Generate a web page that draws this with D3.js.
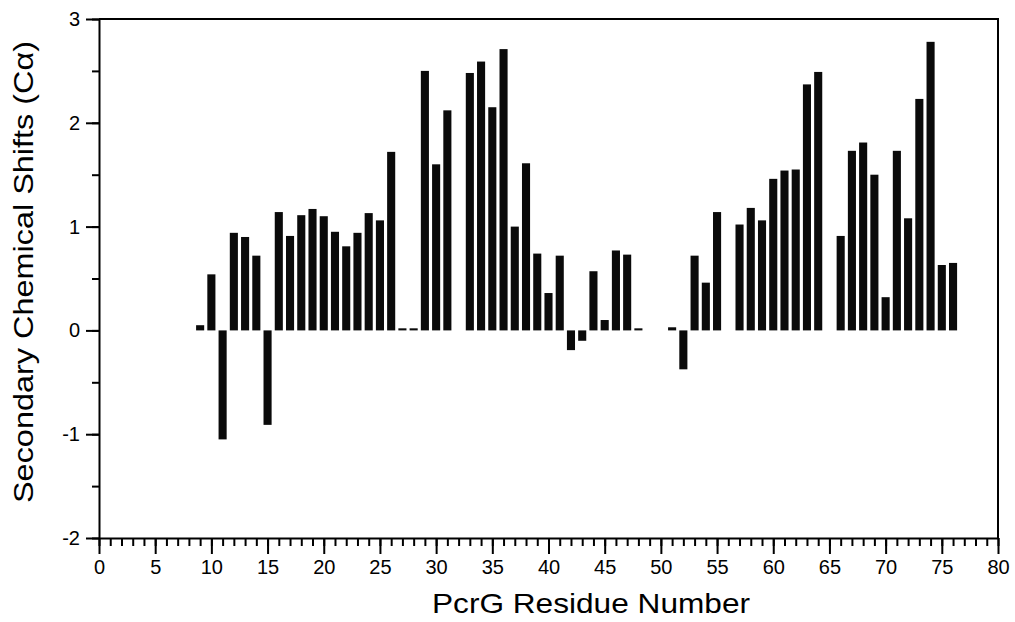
<!DOCTYPE html>
<html>
<head>
<meta charset="utf-8">
<script src="https://cdn.jsdelivr.net/npm/d3@7"></script>
<style>
  body { margin: 0; background: #fff; }
  text { font-family: "Liberation Sans", Arial, sans-serif; fill: #000; }
</style>
</head>
<body>
<div id="chart"></div>
<script>
// residue numbers and secondary C-alpha shifts
var residues = [9, 10, 11, 12, 13, 14, 15, 16, 17, 18, 19, 20, 21, 22, 23, 24, 25, 26, 27, 28, 29, 30, 31,
    33, 34, 35, 36, 37, 38, 39, 40, 41, 42, 43, 44, 45, 46, 47, 48,
    51, 52, 53, 54, 55, 57, 58, 59, 60, 61, 62, 63, 64,
    66, 67, 68, 69, 70, 71, 72, 73, 74, 75, 76];
var shifts = [0.05, 0.54, -1.05, 0.94, 0.90, 0.72, -0.91, 1.14, 0.91, 1.11, 1.17, 1.10, 0.95, 0.81, 0.94, 1.13, 1.06, 1.72, 0.02, 0.02, 2.50, 1.60, 2.12,
    2.48, 2.59, 2.15, 2.71, 1.00, 1.61, 0.74, 0.36, 0.72, -0.19, -0.10, 0.57, 0.10, 0.77, 0.73, 0.02,
    0.03, -0.375, 0.72, 0.46, 1.14, 1.02, 1.18, 1.06, 1.46, 1.54, 1.55, 2.37, 2.49,
    0.91, 1.73, 1.81, 1.50, 0.32, 1.73, 1.08, 2.23, 2.78, 0.63, 0.65];
var xTicks = [0, 5, 10, 15, 20, 25, 30, 35, 40, 45, 50, 55, 60, 65, 70, 75, 80];
var yTicks = [-2, -1, 0, 1, 2, 3];

var width = 1015, height = 622;
var margin = {left: 99, right: 17, top: 19, bottom: 84};

var svg = d3.select('#chart').append('svg')
    .attr('width', width)
    .attr('height', height);

var x = d3.scaleLinear().domain([0, 80]).range([margin.left, width - margin.right]);
var y = d3.scaleLinear().domain([-2, 3]).range([height - margin.bottom, margin.top]);
var barW = (x(1) - x(0)) * 0.72;

var data = residues.map(function(r, i) { return {res: r, val: shifts[i]}; });

// bars
svg.selectAll('.bar')
    .data(data)
    .enter().append('rect')
    .attr('class', 'bar')
    .attr('x', function(d) { return x(d.res) - barW / 2; })
    .attr('width', barW)
    .attr('y', function(d) { return y(Math.max(0, d.val)); })
    .attr('height', function(d) { return Math.abs(y(d.val) - y(0)); })
    .attr('fill', '#0a0a0a');

// frame (top and right)
svg.append('path')
    .attr('d', 'M' + x(0) + ',' + y(3) + 'H' + x(80) + 'V' + y(-2))
    .attr('fill', 'none')
    .attr('stroke', '#000')
    .attr('stroke-width', 2);

// x axis: minor ticks every residue, major every 5
var xMinor = svg.append('g')
    .attr('transform', 'translate(0,' + y(-2) + ')')
    .call(d3.axisBottom(x).ticks(80).tickSize(8).tickFormat(''));
xMinor.select('.domain').remove();
xMinor.selectAll('line').attr('stroke-width', 2);

var xAxis = svg.append('g')
    .attr('transform', 'translate(0,' + y(-2) + ')')
    .call(d3.axisBottom(x).tickValues(xTicks).tickSize(16).tickSizeOuter(0).tickPadding(6));
xAxis.select('.domain').attr('stroke-width', 2);
xAxis.selectAll('line').attr('stroke-width', 2);
xAxis.selectAll('text').style('font-size', '20px');

// y axis: minor ticks at halves
var yMinor = svg.append('g')
    .attr('transform', 'translate(' + x(0) + ',0)')
    .call(d3.axisLeft(y).ticks(10).tickSize(7).tickFormat(''));
yMinor.select('.domain').remove();
yMinor.selectAll('line').attr('stroke-width', 2);

var yAxis = svg.append('g')
    .attr('transform', 'translate(' + x(0) + ',0)')
    .call(d3.axisLeft(y).tickValues(yTicks).tickSize(13).tickSizeOuter(0).tickPadding(6)
        .tickFormat(function(d) { return String(d); }));
yAxis.select('.domain').attr('stroke-width', 2);
yAxis.selectAll('line').attr('stroke-width', 2);
yAxis.selectAll('text').style('font-size', '20px');

// axis titles
svg.append('text')
    .attr('x', 432)
    .attr('y', 613)
    .attr('textLength', 318)
    .attr('lengthAdjust', 'spacingAndGlyphs')
    .style('font-size', '28px')
    .text('PcrG Residue Number');

svg.append('text')
    .attr('transform', 'translate(33,503) rotate(-90)')
    .attr('textLength', 462)
    .attr('lengthAdjust', 'spacingAndGlyphs')
    .style('font-size', '28.5px')
    .text('Secondary Chemical Shifts (C\u03b1)');
</script>
</body>
</html>
